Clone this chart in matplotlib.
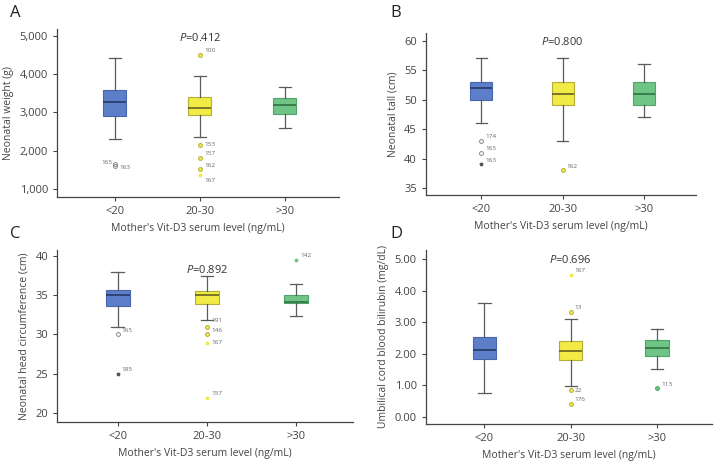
import matplotlib
matplotlib.use("Agg")
import matplotlib.pyplot as plt

plt.rcParams["font.family"] = ["Open Sans", "DejaVu Sans"]
plt.rcParams["mathtext.fontset"] = "custom"
plt.rcParams["mathtext.it"] = "Open Sans:italic"
plt.rcParams["mathtext.rm"] = "Open Sans"

groups = ["<20", "20-30", ">30"]
box_colors = ["#5d7ec8", "#f2ea45", "#6ec585"]
edge_colors = ["#4766ad", "#b5ad3a", "#4fa567"]
median_colors = ["#23345e", "#5a5420", "#2d6a3e"]

# (lower whisker, Q1, median, Q3, upper whisker) per group
weight_stats = [(2300, 2910, 3285, 3590, 4420),
                (2350, 2930, 3105, 3400, 3950),
                (2585, 2950, 3185, 3380, 3655)]
tall_stats = [(46, 50, 52, 53, 57),
              (43, 49, 51, 53, 57),
              (47, 49, 51, 53, 56)]
head_stats = [(30.9, 33.7, 35.0, 35.7, 38.0),
              (31.9, 33.9, 35.0, 35.5, 37.5),
              (32.4, 34.0, 34.2, 35.0, 36.4)]
bili_stats = [(0.76, 1.83, 2.11, 2.54, 3.61),
              (0.98, 1.79, 2.08, 2.40, 3.10),
              (1.51, 1.94, 2.19, 2.44, 2.78)]

# outliers: (group index, value, case label, kind) kind "o" = outlier, "*" = extreme
weight_out = [(0, 1660, "165", "o"), (0, 1590, "163", "o"),
              (1, 4510, "100", "o"), (1, 2160, "153", "o"), (1, 1810, "157", "o"),
              (1, 1510, "162", "o"), (1, 1370, "167", "*")]
tall_out = [(0, 43, "174", "o"), (0, 41, "165", "o"), (0, 39, "163", "*"),
            (1, 38, "162", "o")]
head_out = [(0, 30, "165", "o"), (0, 25, "185", "*"),
            (1, 31, "191", "o"), (1, 30, "146", "o"), (1, 28.9, "167", "*"),
            (1, 21.9, "157", "*"), (2, 39.5, "142", "*")]
bili_out = [(1, 4.50, "167", "*"), (1, 3.33, "13", "o"), (1, 0.86, "22", "o"),
            (1, 0.41, "176", "o"), (2, 0.90, "113", "o")]

# label offsets (points) where the default would clash
label_offsets = {("A", "165"): (-10, 0), ("A", "163"): (3, -2), ("A", "153"): (3, -1),
                 ("A", "167"): (3, -5), ("C", "191"): (3, 3), ("C", "146"): (3, 1.5),
                 ("C", "167"): (3, -1), ("D", "22"): (3, -2)}

panels = [
    dict(letter="A", stats=weight_stats, out=weight_out, ylabel="Neonatal weight (g)",
         ylim=(790, 5180), yticks=[1000, 2000, 3000, 4000, 5000], fmt="{:,.0f}",
         pval="0.412", py=4950, rect=[0.079, 0.580, 0.390, 0.358], lx=10, ly=13),
    dict(letter="B", stats=tall_stats, out=tall_out, ylabel="Neonatal tall (cm)",
         ylim=(33.8, 61.3), yticks=[35, 40, 45, 50, 55, 60], fmt="{:.0f}",
         pval="0.800", py=59.7, rect=[0.589, 0.584, 0.374, 0.346], lx=390, ly=13),
    dict(letter="C", stats=head_stats, out=head_out, ylabel="Neonatal head circumference (cm)",
         ylim=(18.8, 40.8), yticks=[20, 25, 30, 35, 40], fmt="{:.0f}",
         pval="0.892", py=38.3, rect=[0.079, 0.100, 0.409, 0.367], lx=10, ly=234),
    dict(letter="D", stats=bili_stats, out=bili_out, ylabel="Umbilical cord blood bilirubin (mg/dL)",
         ylim=(-0.23, 5.29), yticks=[0, 1, 2, 3, 4, 5], fmt="{:.2f}",
         pval="0.696", py=4.98, rect=[0.589, 0.096, 0.396, 0.371], lx=390, ly=234),
]

fig = plt.figure(figsize=(7.23, 4.69), dpi=100)

for p in panels:
    ax = fig.add_axes(p["rect"])
    bstats = []
    for i, (lo, q1, med, q3, hi) in enumerate(p["stats"]):
        bstats.append(dict(whislo=lo, q1=q1, med=med, q3=q3, whishi=hi, fliers=[], label=groups[i]))
    bp = ax.bxp(bstats, positions=range(3), widths=0.27, patch_artist=True,
                showfliers=False,
                whiskerprops=dict(color="#5a5a5a", lw=0.9),
                capprops=dict(color="#5a5a5a", lw=0.9))
    for i, box in enumerate(bp["boxes"]):
        box.set_facecolor(box_colors[i])
        box.set_edgecolor(edge_colors[i])
        box.set_linewidth(0.8)
        bp["medians"][i].set_color(median_colors[i])
        bp["medians"][i].set_linewidth(1.1)
    for cap in bp["caps"]:
        xs = cap.get_xdata()
        c = (xs[0] + xs[1]) / 2
        cap.set_xdata([c - 0.07, c + 0.07])

    for g, v, lab, kind in p["out"]:
        if kind == "o":
            fc = "none" if (p["letter"] in "ABC" and g == 0) else box_colors[g]
            ec = "#888888" if g == 0 else edge_colors[g]
            ax.plot(g, v, "o", ms=2.8, mfc=fc, mec=ec, mew=0.7)
        else:
            col = "#555555" if g == 0 else box_colors[g]
            ax.plot(g, v, "*", ms=2.5, color=col)
        off = label_offsets.get((p["letter"], lab), (3, 2))
        ax.annotate(lab, (g, v), xytext=off, textcoords="offset points",
                    fontsize=4.6, color="#666666")

    ax.text(1, p["py"], "$P$=" + p["pval"], ha="center", va="center",
            fontsize=8, color="#333333")

    ax.set_xlim(-0.68, 2.64)
    ax.set_ylim(*p["ylim"])
    ax.set_yticks(p["yticks"])
    ax.set_yticklabels([p["fmt"].format(t) for t in p["yticks"]])
    ax.set_xticks(range(3))
    ax.set_xticklabels(groups)
    ax.tick_params(labelsize=8, colors="#444444", length=3, width=0.8)
    ax.set_ylabel(p["ylabel"], fontsize=7.5, color="#444444")
    ax.set_xlabel("Mother's Vit-D3 serum level (ng/mL)", fontsize=7.5, color="#444444")
    for s in ["top", "right"]:
        ax.spines[s].set_visible(False)
    for s in ["left", "bottom"]:
        ax.spines[s].set_color("#444444")
        ax.spines[s].set_linewidth(0.9)

    fig.text(p["lx"] / 723, 1 - p["ly"] / 469, p["letter"], fontsize=12,
             ha="left", va="center", color="#222222")

fig.savefig("out.png", dpi=100)
